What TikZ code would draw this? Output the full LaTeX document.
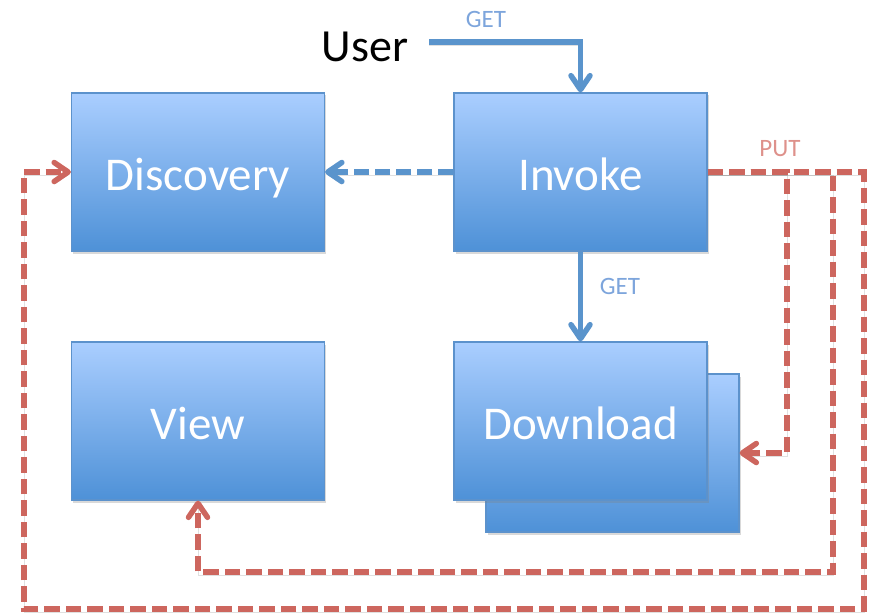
\documentclass[tikz,border=0pt]{standalone}
\usepackage{fontspec}
\setmainfont{Carlito}
\usetikzlibrary{arrows.meta,shadows}
\definecolor{boxtop}{RGB}{170,206,255}
\definecolor{boxbot}{RGB}{78,145,215}
\definecolor{boxline}{RGB}{92,146,204}
\definecolor{bluec}{RGB}{90,148,204}
\definecolor{bluelab}{RGB}{125,165,220}
\definecolor{redc}{RGB}{205,102,94}
\definecolor{redlab}{RGB}{222,145,139}
\tikzset{
  box/.style={draw=boxline, line width=1.2pt, top color=boxtop, bottom color=boxbot,
    minimum width=253pt, minimum height=158pt, inner sep=0pt,
    text=white, font=\fontsize{47}{50}\selectfont, text height=37pt, text depth=0pt,
    drop shadow={opacity=0.3, shadow xshift=1.5pt, shadow yshift=-2.5pt}},
  tipb/.style={-{Straight Barb[length=14pt,width=19pt,line cap=round,line join=round]}},
  lshadow/.style={preaction={draw=black, opacity=0.12, transform canvas={yshift=-3pt}}},
  bluearrow/.style={draw=bluec, line width=5.5pt, tipb, lshadow},
  bluedash/.style={draw=bluec, line width=5.5pt, dash pattern=on 15pt off 6pt, tipb, lshadow},
  reddash/.style={draw=redc, line width=5.5pt, dash pattern=on 15.5pt off 6pt, tipb, lshadow},
  lab/.style={font=\fontsize{25}{27}\selectfont, inner sep=0pt},
}
\begin{document}
\begin{tikzpicture}[x=1pt,y=-1pt]
\useasboundingbox (0,0) rectangle (871,615);
% boxes
\node[box] (disc) at (198,172) {Discovery};
\node[box] (inv) at (580.5,172) {Invoke};
\node[box] (view) at (198,421) {View};
\node[box] (dlb) at (612.5,453) {};
\node[box] (dl) at (580.5,421) {Download};
% user
\node[anchor=base, inner sep=0pt, font=\fontsize{46}{50}\selectfont] (user) at (365,62) {User};
\coordinate (ustart) at (429,42);
% labels
\node[lab, text=bluelab] (get1) at (486,19) {GET};
\node[lab, text=bluelab] (get2) at (620,286) {GET};
\node[lab, text=redlab] (put) at (780,149) {PUT};
% blue connectors
\draw[bluearrow] (ustart) -| (inv.north);
\draw[bluearrow] (inv.south) -- (dl.north);
\draw[bluedash] (inv.west) -- (disc.east);
% red connectors
\coordinate (c1) at (787,172);
\coordinate (c2) at (833,572);
\coordinate (c3) at (864,609);
\coordinate (c4) at (24,172);
\draw[reddash] (inv.east) -- (c1) |- (dlb.east);
\draw[reddash] (inv.east) -| (c2) -| (view.south);
\draw[reddash] (inv.east) -| (c3) -| (c4) -- (disc.west);
\end{tikzpicture}
\end{document}
